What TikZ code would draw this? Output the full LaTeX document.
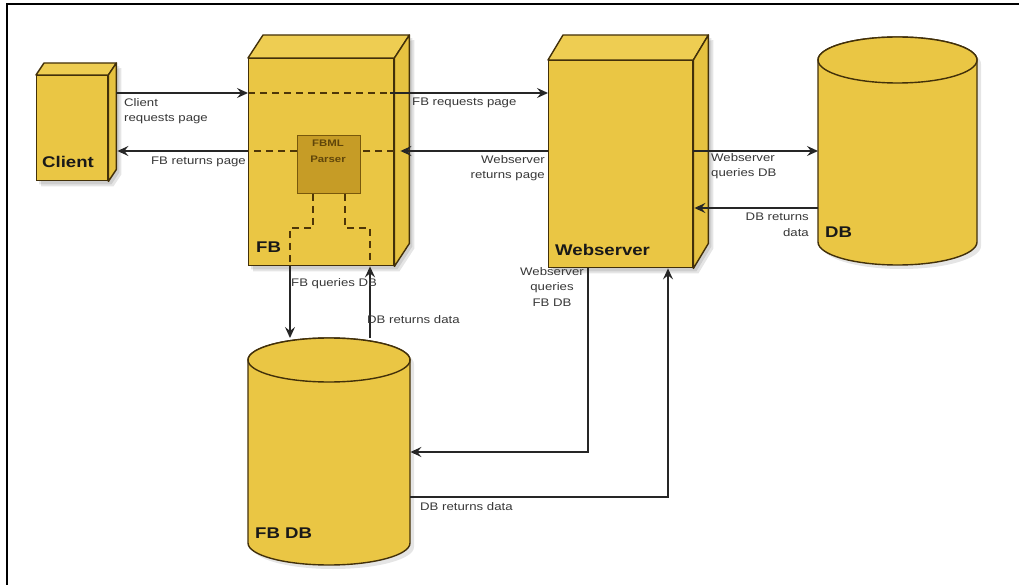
\documentclass[tikz,border=0pt]{standalone}
\usepackage{fontspec}
\setmainfont{Liberation Sans}[FakeStretch=1.2]
\usetikzlibrary{arrows.meta,calc,backgrounds}
\definecolor{boxfill}{RGB}{234,198,68}
\definecolor{boxtop}{RGB}{238,205,82}
\definecolor{boxside}{RGB}{230,194,64}
\definecolor{edgecol}{RGB}{66,48,10}
\definecolor{parserfill}{RGB}{198,156,38}
\definecolor{parseredge}{RGB}{120,88,12}
\definecolor{dashcol}{RGB}{78,54,8}
\definecolor{txtcol}{RGB}{55,55,55}
\tikzset{
  face/.style={draw=edgecol, fill=boxfill, line width=1.4pt, inner sep=0pt, anchor=north west},
  topface/.style={draw=edgecol, fill=boxtop, line width=1.4pt, line join=round},
  sideface/.style={draw=edgecol, fill=boxside, line width=1.4pt, line join=round},
  ghost/.style={inner sep=0pt, anchor=north west},
  cylbody/.style={draw=edgecol, fill=boxfill, line width=1.4pt},
  shadowc/.style={fill=black, opacity=0.10},
  arr/.style={-{Stealth[length=11pt,width=10pt,inset=4pt]}, line width=1.6pt, draw=black!85},
  dsh/.style={draw=dashcol, line width=2.2pt, dash pattern=on 7pt off 5pt},
  lbl/.style={font=\fontsize{11}{15.5}\selectfont, text=txtcol, inner sep=0pt},
  big/.style={font=\fontsize{15.5}{18}\selectfont\bfseries, text=black!90, inner sep=0pt, anchor=base west},
}
\newcommand\cubefaces[3]{%
  \draw[topface] (#1.north west) -- ++(#2,#3) -- ($(#1.north east)+(#2,#3)$) -- (#1.north east) -- cycle;
  \draw[sideface] (#1.north east) -- ++(#2,#3) -- ($(#1.south east)+(#2,#3)$) -- (#1.south east) -- cycle;
  \begin{pgfonlayer}{background}
    \fill[shadowc] ($(#1.north west)+(3,3)$) -- ($(#1.north east)+(#2+3,#3+3)$) -- ($(#1.south east)+(#2+3,#3+3)$) -- ($(#1.south east)+(3,3)$) -- ($(#1.south west)+(3,3)$) -- cycle;
    \fill[shadowc] ($(#1.north west)+(5,5)$) -- ($(#1.north east)+(#2+5,#3+5)$) -- ($(#1.south east)+(#2+5,#3+5)$) -- ($(#1.south east)+(5,5)$) -- ($(#1.south west)+(5,5)$) -- cycle;
  \end{pgfonlayer}}
% cx rx ytop ybot ry
\newcommand\drawcyl[5]{%
  \fill[shadowc] (#1-#2+4,#3+4) -- (#1-#2+4,#4+4) arc[start angle=180,end angle=0,x radius=#2,y radius=#5] -- (#1+#2+4,#3+4) arc[start angle=0,end angle=-180,x radius=#2,y radius=#5] -- cycle;
  \path[cylbody] (#1-#2,#3) -- (#1-#2,#4) arc[start angle=180,end angle=0,x radius=#2,y radius=#5] -- (#1+#2,#3) arc[start angle=0,end angle=-180,x radius=#2,y radius=#5] -- cycle;
  \draw[cylbody] (#1,#3) ellipse[x radius=#2, y radius=#5];}
\begin{document}
\begin{tikzpicture}[x=1pt,y=-1pt]
\useasboundingbox (0,0) rectangle (1019,585);
% frame
\draw[line width=2.2pt] (7,585) -- (7,4) -- (1019,4);

% cylinders
\drawcyl{897.5}{79.5}{60}{242}{23}
\node[ghost, minimum width=159pt, minimum height=228pt] (db) at (818,37) {};
\drawcyl{329}{81}{360}{543}{22}
\node[ghost, minimum width=162pt, minimum height=227pt] (fbdb) at (248,338) {};

% cubes
\node[face, minimum width=71pt, minimum height=105pt] (client) at (36,75) {};
\cubefaces{client}{8}{-12}
\node[face, minimum width=145pt, minimum height=207pt] (fb) at (248,58) {};
\cubefaces{fb}{15}{-23}
\node[face, minimum width=144pt, minimum height=207pt] (ws) at (548,60) {};
\cubefaces{ws}{15}{-25}
\node[draw=parseredge, fill=parserfill, line width=1pt, inner sep=0pt, anchor=north west,
      minimum width=63pt, minimum height=58pt] (parser) at (297,135) {};
\node[font=\fontsize{9.5}{16}\selectfont\bfseries, text=parseredge!80!black, align=center, inner sep=0pt, anchor=north] (ptext) at (328,140) {FBML\\Parser};

% level coordinates
\coordinate (r1) at (0,93);
\coordinate (r2) at (0,151);
\coordinate (r3) at (0,208);
\coordinate (pq) at (313,228);
\coordinate (pr) at (345,228);
\coordinate (cq) at (290,0);
\coordinate (cr) at (370,0);
\coordinate (c4) at (588,452);
\coordinate (c5) at (668,497);

% client -> FB -> webserver
\draw[arr] ([xshift=8pt]client.east |- r1) -- (fb.west |- r1);
\draw[dsh] (fb.west |- r1) -- ([xshift=-4pt]fb.east |- r1);
\draw[arr] ([xshift=-4pt]fb.east |- r1) -- (ws.west |- r1);
% webserver -> FB -> client
\draw[arr] (ws.west |- r2) -- ([xshift=6pt]fb.east |- r2);
\draw[dsh] (fb.east |- r2) -- (parser.east |- r2);
\draw[dsh] (parser.west |- r2) -- (fb.west |- r2);
\draw[arr] (fb.west |- r2) -- ([xshift=9pt]client.east |- r2);
% FB <-> FB DB
\draw[dsh] (parser.south -| pq) -- (pq) -- (pq -| cq) -- (fb.south -| cq);
\draw[arr] (fb.south -| cq) -- (fbdb.north -| cq);
\draw[dsh] (parser.south -| pr) -- (pr) -- (pr -| cr) -- (fb.south -| cr);
\draw[arr] (fbdb.north -| cr) -- (fb.south -| cr);
% webserver <-> DB
\draw[arr] (ws.east |- r2) -- (db.west |- r2);
\draw[arr] (db.west |- r3) -- ([xshift=1pt]ws.east |- r3);
% webserver <-> FB DB
\draw[arr] (ws.south -| c4) -- (c4) -- (fbdb.east |- c4);
\draw[arr] (fbdb.east |- c5) -- (c5) -- (ws.south -| c5);

% labels
\node[lbl, anchor=north west, align=left] (l1) at (124,98) {Client\\requests page};
\node[lbl, anchor=north east] (l2) at (246,157) {FB returns page};
\node[lbl, anchor=north west] (l3) at (412,98) {FB requests page};
\node[lbl, anchor=north east, align=right] (l4) at (545,155) {Webserver\\returns page};
\node[lbl, anchor=north west, align=left] (l5) at (711,153) {Webserver\\queries DB};
\node[lbl, anchor=north east, align=right] (l6) at (809,213) {DB returns\\data};
\node[lbl, anchor=north west] (l7) at (291,278) {FB queries DB};
\node[lbl, anchor=north west] (l8) at (367,315) {DB returns data};
\node[lbl, anchor=north, align=center] (l9) at (552,267) {Webserver\\queries\\FB DB};
\node[lbl, anchor=north west] (l10) at (420,502) {DB returns data};

\node[big] (tclient) at (42,168) {Client};
\node[big] (tfb) at (256,253) {FB};
\node[big] (tws) at (555,255) {Webserver};
\node[big] (tdb) at (825,237) {DB};
\node[big] (tfbdb) at (255,538) {FB DB};
\end{tikzpicture}
\end{document}
